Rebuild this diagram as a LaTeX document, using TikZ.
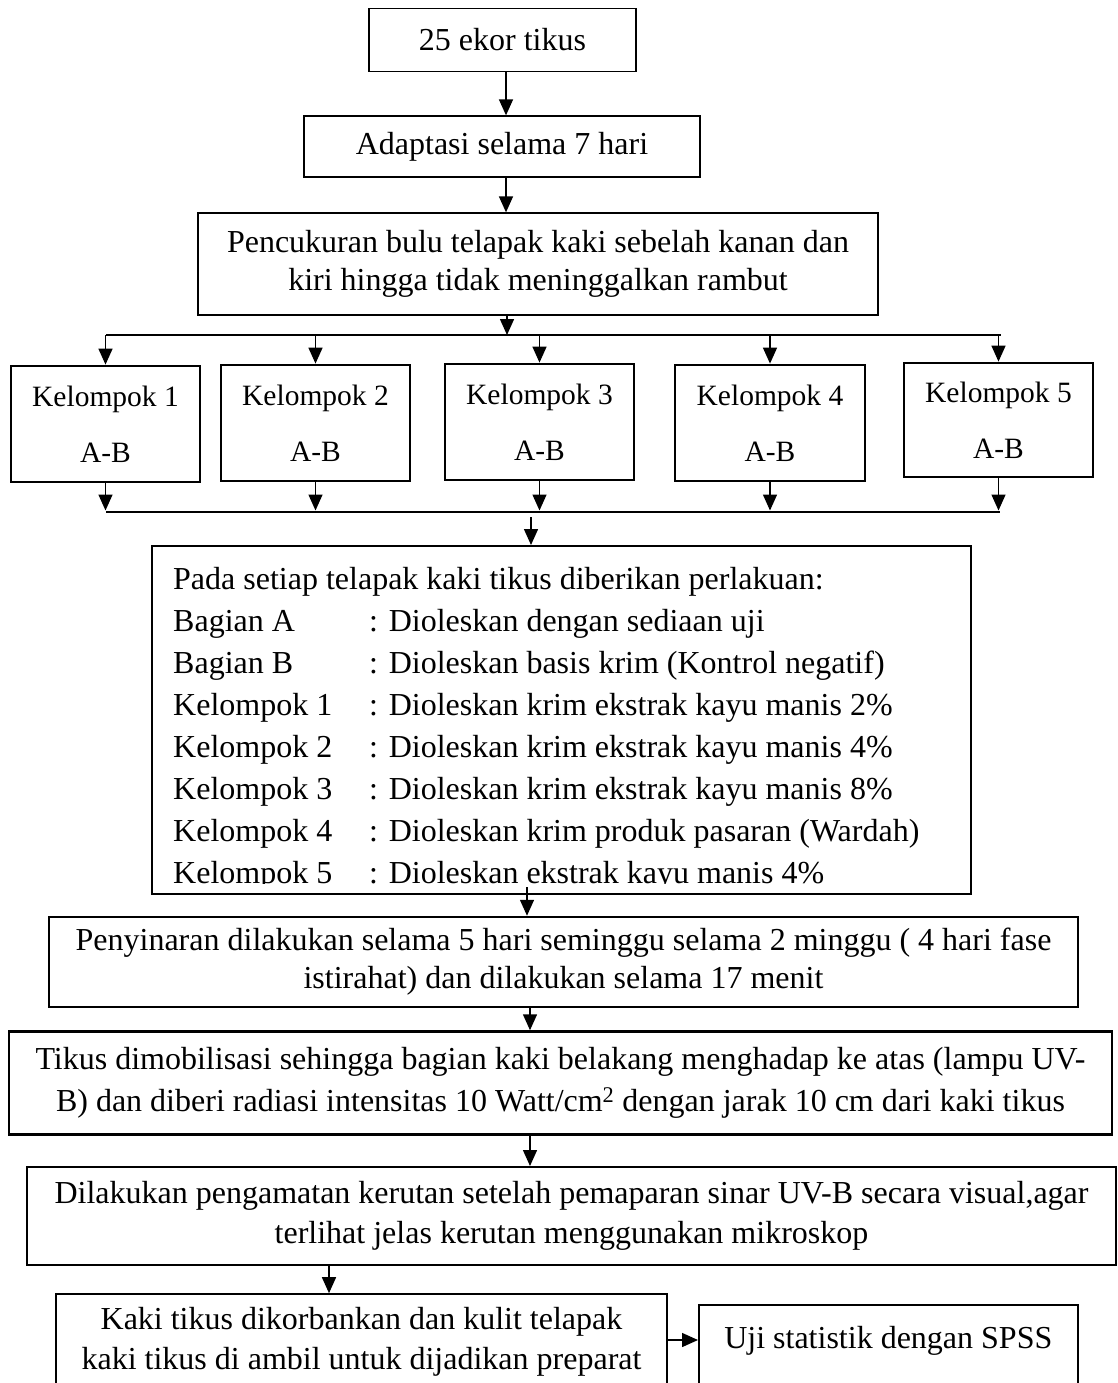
\documentclass[tikz,border=0pt]{standalone}
\usepackage{fontspec}
\setmainfont{Liberation Serif}
\usetikzlibrary{arrows.meta,calc}
\begin{document}
\begin{tikzpicture}[x=1pt,y=-1pt,
  box/.style={draw,line width=1.3pt,rectangle,inner sep=0pt,align=center,
    font=\fontsize{32}{38}\selectfont},
  kbox/.style={draw,line width=2.8pt,rectangle,inner sep=0pt,align=center,
    minimum width=189pt,minimum height=116pt,font=\fontsize{29.5}{56}\selectfont},
  arr/.style={line width=1.5pt,-{Triangle[length=16pt,width=14pt]}},
  ln/.style={line width=1.5pt}]
\useasboundingbox (0,0) rectangle (1117,1383);
\clip (0,0) rectangle (1117,1383);

\node[box,minimum width=267pt,minimum height=63pt] (b1) at (502.5,40) {25 ekor tikus};
\node[box,minimum width=396pt,minimum height=61pt] (b2) at (502,146.5) {Adaptasi selama 7 hari};
\node[box,minimum width=680pt,minimum height=102pt] (b3) at (538,264) {Pencukuran bulu telapak kaki sebelah kanan dan\\kiri hingga tidak meninggalkan rambut};

\node[kbox] (k1) at (105.5,424) {Kelompok 1\\A-B};
\node[kbox] (k2) at (315.5,423) {Kelompok 2\\A-B};
\node[kbox] (k3) at (539.5,422) {Kelompok 3\\A-B};
\node[kbox,minimum width=190pt] (k4) at (770,423) {Kelompok 4\\A-B};
\node[kbox,minimum height=114pt] (k5) at (998.5,420) {Kelompok 5\\A-B};

\node[draw,line width=2pt,rectangle,minimum width=819pt,minimum height=348pt] (bb) at (561.5,720) {};
\begin{scope}
\clip (154,548) rectangle (969,883);
\node[anchor=north west,inner sep=0pt,align=left,font=\fontsize{32}{42}\selectfont] (bt) at (173,567)
{Pada setiap telapak kaki tikus diberikan perlakuan:\\
\makebox[196pt][l]{Bagian A}: Dioleskan dengan sediaan uji\\
\makebox[196pt][l]{Bagian B}: Dioleskan basis krim (Kontrol negatif)\\
\makebox[196pt][l]{Kelompok 1}: Dioleskan krim ekstrak kayu manis 2\%\\
\makebox[196pt][l]{Kelompok 2}: Dioleskan krim ekstrak kayu manis 4\%\\
\makebox[196pt][l]{Kelompok 3}: Dioleskan krim ekstrak kayu manis 8\%\\
\makebox[196pt][l]{Kelompok 4}: Dioleskan krim produk pasaran (Wardah)\\
\makebox[196pt][l]{Kelompok 5}: Dioleskan ekstrak kayu manis 4\%};
\end{scope}

\node[box,line width=2.5pt,minimum width=1029pt,minimum height=90pt] (b5) at (563.5,962) {Penyinaran dilakukan selama 5 hari seminggu selama 2 minggu ( 4 hari fase\\istirahat) dan dilakukan selama 17 menit};
\node[box,line width=2.5pt,minimum width=1103pt,minimum height=103pt,font=\fontsize{32}{42}\selectfont] (b6) at (560.5,1083) {Tikus dimobilisasi sehingga bagian kaki belakang menghadap ke atas (lampu UV-\\B) dan diberi radiasi intensitas 10 Watt/cm\textsuperscript{2} dengan jarak 10 cm dari kaki tikus};
\node[box,line width=2pt,minimum width=1089pt,minimum height=98pt,font=\fontsize{32}{40}\selectfont] (b7) at (571.5,1216) {Dilakukan pengamatan kerutan setelah pemaparan sinar UV-B secara visual,agar\\terlihat jelas kerutan menggunakan mikroskop};
\node[box,line width=1.6pt,minimum width=611pt,minimum height=96pt,font=\fontsize{32}{40}\selectfont] (b8) at (361.5,1342) {Kaki tikus dikorbankan dan kulit telapak\\kaki tikus di ambil untuk dijadikan preparat};
\node[box,line width=1.6pt,anchor=north west,minimum width=379pt,text height=22pt,text depth=90pt,inner ysep=22pt] (b9) at (698,1304) {Uji statistik dengan SPSS};

% connectors
\draw[arr] ([xshift=3.5]b1.south) -- ([xshift=3.5]b1.south |- b2.north);
\draw[arr] ([xshift=4]b2.south) -- ([xshift=4]b2.south |- b3.north);
\coordinate (busL) at (106,335);
\coordinate (busR) at (1001,335);
\draw[arr] ([xshift=-31]b3.south) -- ([xshift=-31]b3.south |- busL);
\draw[ln] (busL) -- (busR);
\foreach \k in {k1,k2,k3,k4,k5}{
  \draw[arr] (\k.north |- busL) -- (\k.north);
}
\coordinate (lowL) at (106,512);
\coordinate (lowR) at (1000,512);
\coordinate (lowA) at (531,517);
\foreach \k in {k1,k2,k3,k4,k5}{
  \draw[arr] (\k.south) -- ([yshift=1.5]\k.south |- lowL);
}
\draw[ln] (lowL) -- (lowR);
\draw[arr] (lowA) -- (lowA |- bb.north);
\draw[arr] ([xshift=-34.5,yshift=8]bb.south) -- ([xshift=-34.5]bb.south |- b5.north);
\draw[arr] ([xshift=-33.5]b5.south) -- ([xshift=-33.5]b5.south |- b6.north);
\draw[arr] ([xshift=-30.5]b6.south) -- ([xshift=-30.5]b6.south |- b7.north);
\draw[arr] ([xshift=-242.5]b7.south) -- ([xshift=-242.5]b7.south |- b8.north);
\draw[arr] ([yshift=2]b8.east) -- ([yshift=2]b8.east -| b9.west);
\end{tikzpicture}
\end{document}
